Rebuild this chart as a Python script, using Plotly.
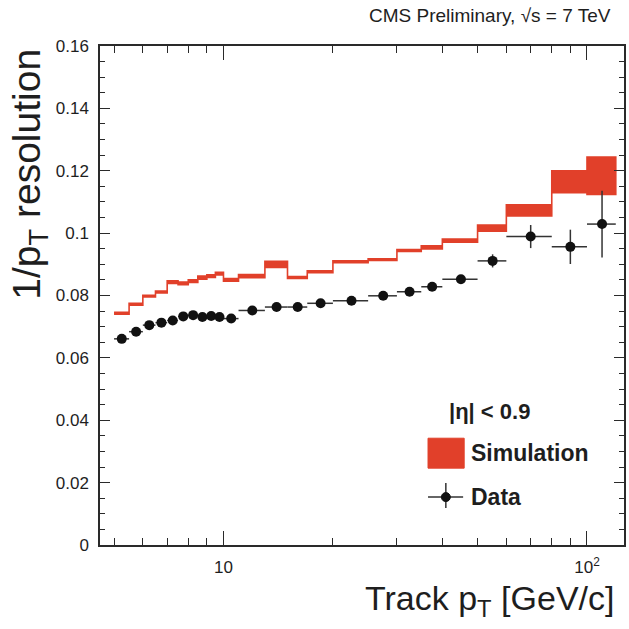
import plotly.graph_objects as go

# ---- data ----
bin_low  = [5.0, 5.5, 6.0, 6.5, 7.0, 7.5, 8.0, 8.5, 9.0, 9.5, 10, 11, 13, 15, 17, 20, 25, 30, 35, 40, 50, 60, 80, 100]
bin_high = [5.5, 6.0, 6.5, 7.0, 7.5, 8.0, 8.5, 9.0, 9.5, 10, 11, 13, 15, 17, 20, 25, 30, 35, 40, 50, 60, 80, 100, 120]

sim_val = [0.0743, 0.0772, 0.0798, 0.0811, 0.0843, 0.0839, 0.0846, 0.0857, 0.0862, 0.0870,
           0.0850, 0.0862, 0.0900, 0.0858, 0.0876, 0.0908, 0.0915, 0.0944, 0.0954, 0.0976,
           0.1016, 0.1073, 0.1165, 0.1184]
sim_err = [0.0003, 0.0003, 0.0003, 0.0003, 0.0004, 0.0004, 0.0004, 0.0005, 0.0004, 0.0004,
           0.0004, 0.0005, 0.0010, 0.0003, 0.0003, 0.0003, 0.0003, 0.0003, 0.0005, 0.0005,
           0.0010, 0.0018, 0.0035, 0.0060]

data_val = [0.0661, 0.0684, 0.0705, 0.0713, 0.0720, 0.0733, 0.0737, 0.0731, 0.0734, 0.0731,
            0.0726, 0.0752, 0.0763, 0.0763, 0.0775, 0.0783, 0.0799, 0.0812, 0.0828, 0.0852,
            0.0911, 0.0989, 0.0956, 0.1029]
data_err = [0.0003, 0.0003, 0.0003, 0.0003, 0.0003, 0.0003, 0.0003, 0.0003, 0.0003, 0.0003,
            0.0003, 0.0003, 0.0003, 0.0003, 0.0003, 0.0003, 0.0004, 0.0004, 0.0005, 0.0006,
            0.0021, 0.0037, 0.0055, 0.0107]

y_tickvals = [0, 0.02, 0.04, 0.06, 0.08, 0.1, 0.12, 0.14, 0.16]
y_ticktext = ["0", "0.02", "0.04", "0.06", "0.08", "0.1", "0.12", "0.14", "0.16"]
x_tickvals = [10, 100]
x_ticktext = ["10", "10<sup>2</sup>"]
x_minor = [5, 6, 7, 8, 9, 20, 30, 40, 50, 60, 70, 80, 90]

FONT = "Liberation Sans, Arial, Helvetica, sans-serif"
RED = "#e1402a"
INK = "#1e1e1e"
AX = "#2a2a2a"

# ---- simulation band as a step polygon ----
bx, by = [], []
for lo, hi, v, e in zip(bin_low, bin_high, sim_val, sim_err):
    bx += [lo, hi]
    by += [v + e, v + e]
for lo, hi, v, e in reversed(list(zip(bin_low, bin_high, sim_val, sim_err))):
    bx += [hi, lo]
    by += [v - e, v - e]

centers = [(lo + hi) / 2 for lo, hi in zip(bin_low, bin_high)]
xerr_plus = [hi - c for hi, c in zip(bin_high, centers)]
xerr_minus = [c - lo for lo, c in zip(bin_low, centers)]

fig = go.Figure()
fig.add_trace(go.Scatter(
    x=bx, y=by, mode="lines", fill="toself", fillcolor=RED,
    line=dict(color=RED, width=1.6), name="Simulation", showlegend=False,
    hoverinfo="skip"))
fig.add_trace(go.Scatter(
    x=centers, y=data_val, mode="markers", name="Data", showlegend=False,
    marker=dict(color="#111111", size=10),
    error_x=dict(type="data", symmetric=False, array=xerr_plus, arrayminus=xerr_minus,
                 color="#333333", thickness=1.5, width=0),
    error_y=dict(type="data", array=data_err, color="#333333", thickness=1.5, width=0)))

axis_common = dict(showline=True, linecolor=AX, linewidth=1.5, mirror="ticks",
                   ticks="inside", tickcolor=AX, tickwidth=1.2, showgrid=False,
                   zeroline=False, automargin=False,
                   tickfont=dict(family=FONT, size=17, color=INK))

fig.update_xaxes(type="log", range=[0.6603, 2.1018], tickmode="array",
                 tickvals=x_tickvals, ticktext=x_ticktext, ticklen=14,
                 ticklabelstandoff=6,
                 minor=dict(tickmode="array", tickvals=x_minor, ticks="inside",
                            ticklen=7, tickcolor=AX, tickwidth=1.2),
                 **axis_common)
fig.update_yaxes(range=[0, 0.16], tickmode="array", tickvals=y_tickvals,
                 ticktext=y_ticktext, ticklen=10, ticklabelstandoff=6,
                 minor=dict(dtick=0.005, ticks="inside", ticklen=5,
                            tickcolor=AX, tickwidth=1.2),
                 **axis_common)

annotations = [
    dict(text="CMS Preliminary, √s = 7 TeV", xref="paper", yref="paper",
         x=0.979, y=1.062, xanchor="right", yanchor="middle", showarrow=False,
         font=dict(family=FONT, size=19, color=INK)),
    dict(text="1/p<sub>T</sub> resolution", xref="paper", yref="paper",
         x=-0.135, y=0.998, xanchor="center", yanchor="top", textangle=-90,
         showarrow=False, font=dict(family=FONT, size=39, color=INK)),
    dict(text="Track p<sub>T</sub> [GeV/c]", xref="paper", yref="paper",
         x=0.985, y=-0.112, xanchor="right", yanchor="middle", showarrow=False,
         font=dict(family=FONT, size=34, color=INK)),
    dict(text="<b>|η| < 0.9</b>", xref="paper", yref="paper",
         x=0.662, y=0.267, xanchor="left", yanchor="middle", showarrow=False,
         font=dict(family=FONT, size=22, color=INK)),
    dict(text="<b>Simulation</b>", xref="paper", yref="paper",
         x=0.704, y=0.184, xanchor="left", yanchor="middle", showarrow=False,
         font=dict(family=FONT, size=23, color=INK)),
    dict(text="<b>Data</b>", xref="paper", yref="paper",
         x=0.704, y=0.096, xanchor="left", yanchor="middle", showarrow=False,
         font=dict(family=FONT, size=23, color=INK)),
]

shapes = [
    dict(type="rect", xref="paper", yref="paper", x0=0.626, x1=0.695, y0=0.154, y1=0.214,
         fillcolor=RED, line=dict(color=RED, width=1)),
    dict(type="line", xref="paper", yref="paper", x0=0.626, x1=0.693, y0=0.096, y1=0.096,
         line=dict(color="#333333", width=1.5)),
    dict(type="line", xref="paper", yref="paper", x0=0.660, x1=0.660, y0=0.074, y1=0.124,
         line=dict(color="#333333", width=1.5)),
    dict(type="circle", xref="paper", yref="paper", x0=0.660 - 0.0086, x1=0.660 + 0.0086,
         y0=0.096 - 0.009, y1=0.096 + 0.009, fillcolor="#111111",
         line=dict(color="#111111", width=1)),
]

fig.update_layout(width=629, height=629, margin=dict(l=100, r=5, t=46, b=84),
                  paper_bgcolor="white", plot_bgcolor="white",
                  annotations=annotations, shapes=shapes, showlegend=False)

fig.write_html("out.html", config={"displayModeBar": False},
               post_script="document.body.style.margin='0px';document.body.style.overflow='hidden';")
